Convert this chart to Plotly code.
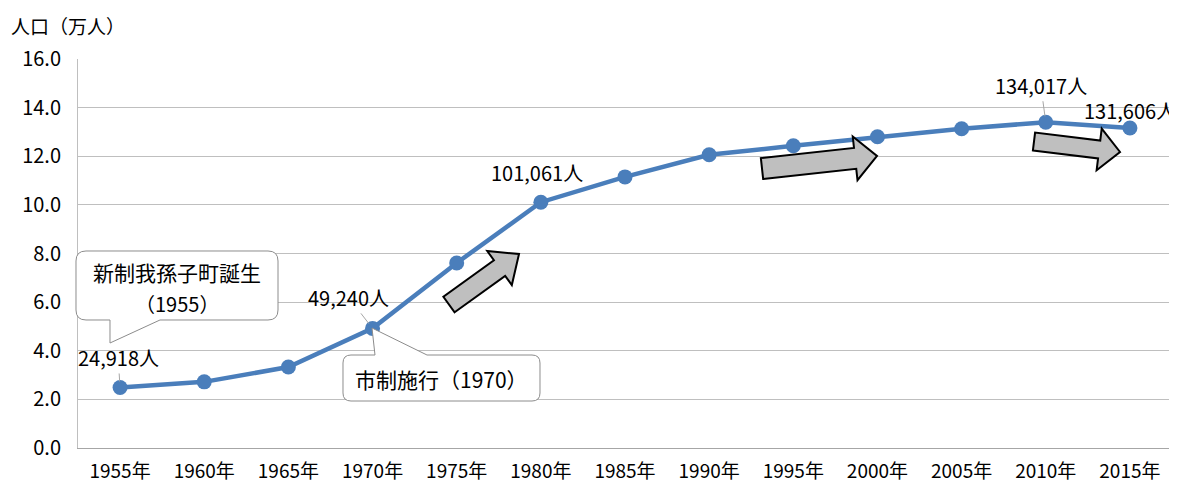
import plotly.graph_objects as go

# ---- data ----
years = ["1955年", "1960年", "1965年", "1970年", "1975年", "1980年", "1985年",
         "1990年", "1995年", "2000年", "2005年", "2010年", "2015年"]
population_man = [2.49, 2.72, 3.33, 4.92, 7.61, 10.11, 11.15,
                  12.06, 12.43, 12.80, 13.13, 13.40, 13.16]
label_years = ["1955年", "1970年", "1980年", "2010年", "2015年"]
label_values = [24918, 49240, 101061, 134017, 131606]
y_ticks = [0, 2, 4, 6, 8, 10, 12, 14, 16]

# ---- layout geometry (window pixels) ----
WIN_W, WIN_H = 1177, 482
OFF = 8  # default page body margin
L, R, T, B = 78, 1172, 59, 448
FONT = "Noto Sans CJK JP"
LINE_COLOR = "#4A7EBB"


def px(x):
    return (x - L) / (R - L)


def py(y):
    return (B - y) / (B - T)


def path_from(points_cmds):
    out = []
    for cmd in points_cmds:
        op = cmd[0]
        pts = cmd[1:]
        s = op + " ".join(f"{px(a):.5f},{py(b):.5f}" for a, b in pts)
        out.append(s)
    return " ".join(out) + " Z"


def block_arrow(tail, tip, sw, hw, hl):
    import math
    dx, dy = tip[0] - tail[0], tip[1] - tail[1]
    ln = math.hypot(dx, dy)
    ux, uy = dx / ln, dy / ln
    nx, ny = -uy, ux
    bx, by = tip[0] - ux * hl, tip[1] - uy * hl
    pts = [
        (tail[0] + nx * sw, tail[1] + ny * sw),
        (bx + nx * sw, by + ny * sw),
        (bx + nx * hw, by + ny * hw),
        tip,
        (bx - nx * hw, by - ny * hw),
        (bx - nx * sw, by - ny * sw),
        (tail[0] - nx * sw, tail[1] - ny * sw),
    ]
    cmds = [("M", pts[0])] + [("L", p) for p in pts[1:]]
    return path_from(cmds)


fig = go.Figure()
fig.add_trace(go.Scatter(
    x=years, y=population_man, mode="lines+markers",
    line=dict(color=LINE_COLOR, width=4.5),
    marker=dict(color=LINE_COLOR, size=15),
    hoverinfo="skip", showlegend=False,
))

shapes = []
# block arrows
for tail, tip, sw, hw, hl in [
    ((449, 304.5), (519, 254), 9.6, 21, 24),
    ((762, 168.5), (877, 156), 10.5, 22, 22),
    ((1034, 141.5), (1120, 152), 9.0, 21, 21),
]:
    shapes.append(dict(type="path", xref="paper", yref="paper",
                       path=block_arrow(tail, tip, sw, hw, hl),
                       fillcolor="#BFBFBF", line=dict(color="black", width=2),
                       layer="above"))

# callout 1
c1 = [("M", (86, 251)), ("L", (268, 251)), ("Q", (278, 251), (278, 261)),
      ("L", (278, 310)), ("Q", (278, 320), (268, 320)), ("L", (160, 320)),
      ("L", (110, 343)), ("L", (110, 320)), ("L", (86, 320)),
      ("Q", (76, 320), (76, 310)), ("L", (76, 261)), ("Q", (76, 251), (86, 251))]
# callout 2
c2 = [("M", (351, 355)), ("L", (375, 355)), ("L", (372, 328)), ("L", (427, 355)),
      ("L", (532, 355)), ("Q", (540, 355), (540, 363)), ("L", (540, 393)),
      ("Q", (540, 401), (532, 401)), ("L", (351, 401)), ("Q", (343, 401), (343, 393)),
      ("L", (343, 363)), ("Q", (343, 355), (351, 355))]
for c in (c1, c2):
    shapes.append(dict(type="path", xref="paper", yref="paper", path=path_from(c),
                       fillcolor="white", line=dict(color="#8C8C8C", width=1),
                       layer="above"))

annotations = []
# data labels
offsets = {
    "1955年": dict(ax=-2, ay=-30, showarrow=True),
    "1970年": dict(ax=-24, ay=-31, showarrow=True),
    "1980年": dict(ax=-4, ay=-30, showarrow=False),
    "2010年": dict(ax=-5, ay=-37, showarrow=True),
    "2015年": dict(ax=0, ay=-18, showarrow=False),
}
for yr, v in zip(label_years, label_values):
    yv = population_man[years.index(yr)]
    o = offsets[yr]
    a = dict(x=yr, y=yv, xref="x", yref="y", text=f"{v:,}人",
             font=dict(family=FONT, size=20, color="black"))
    if o["showarrow"]:
        a.update(showarrow=True, ax=o["ax"], ay=o["ay"], arrowhead=0,
                 arrowwidth=1, arrowcolor="#A6A6A6", standoff=6)
    else:
        a.update(showarrow=False, xshift=o["ax"], yshift=-o["ay"],
                 xanchor="center", yanchor="middle")
    annotations.append(a)

# callout texts
annotations += [
    dict(x=px(177), y=py(272), xref="paper", yref="paper", showarrow=False,
         xanchor="center", yanchor="middle",
         text="新制我孫子町誕生", font=dict(family=FONT, size=21, color="black")),
    dict(x=px(177), y=py(303), xref="paper", yref="paper", showarrow=False,
         xanchor="center", yanchor="middle",
         text="（1955）", font=dict(family=FONT, size=20, color="black")),
    dict(x=px(441), y=py(379), xref="paper", yref="paper", showarrow=False,
         xanchor="center", yanchor="middle",
         text="市制施行（1970）", font=dict(family=FONT, size=21, color="black")),
    dict(x=px(9), y=py(25), xref="paper", yref="paper", showarrow=False,
         xanchor="left", yanchor="middle", text="人口（万人）",
         font=dict(family=FONT, size=19, color="black")),
]

fig_w, fig_h = WIN_W - OFF, WIN_H - OFF
fig.update_layout(
    width=fig_w, height=fig_h,
    margin=dict(l=L - OFF, r=fig_w - (R - OFF), t=T - OFF, b=fig_h - (B - OFF),
                autoexpand=False),
    paper_bgcolor="white", plot_bgcolor="white",
    shapes=shapes, annotations=annotations,
    font=dict(family=FONT, size=19, color="black"),
    xaxis=dict(type="category", categoryorder="array", categoryarray=years,
               range=[-0.5, len(years) - 0.5], showgrid=False, showline=True,
               linecolor="#A6A6A6", linewidth=1, ticks="", fixedrange=True,
               automargin=False, ticklabelstandoff=6,
               tickfont=dict(family=FONT, size=19, color="black")),
    yaxis=dict(range=[0, 16], tickvals=y_ticks,
               ticktext=[f"{v:.1f}" for v in y_ticks],
               showgrid=True, gridcolor="#BFBFBF", gridwidth=1,
               showline=True, mirror=True, linecolor="#BFBFBF", linewidth=1,
               zeroline=False, ticks="", ticklabelstandoff=12, fixedrange=True,
               automargin=False,
               tickfont=dict(family=FONT, size=20, color="black")),
)

fig.write_html("out.html")
